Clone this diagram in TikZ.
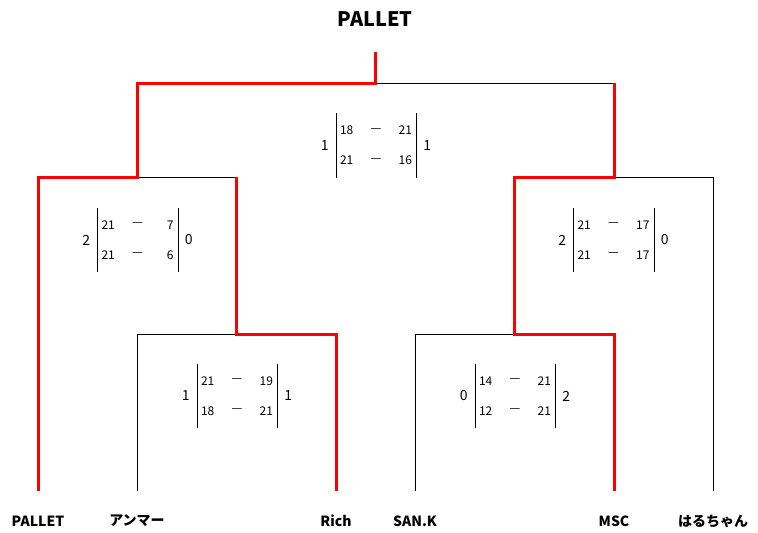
\documentclass[tikz,border=0pt]{standalone}
\usepackage{fontspec}
\setmainfont{Noto Sans CJK JP}
\usetikzlibrary{positioning}
\tikzset{%
  win/.style={draw=red, line width=3pt},% winner's path
  lose/.style={draw=black, line width=1pt},
  player/.style={font=\fontsize{14}{14}\selectfont\bfseries, inner sep=0pt},
  champion/.style={font=\fontsize{20}{20}\selectfont\bfseries, inner sep=0pt},
  %
  gamebox/.style={minimum width=80pt, minimum height=64pt, inner sep=0pt},
  point/.style={font=\fontsize{12}{12}\selectfont, inner sep=0pt},
  dashmark/.style={font=\fontsize{12}{12}\selectfont, inner sep=0pt},
  total/.style={font=\fontsize{14}{14}\selectfont, inner sep=0pt}}
% #1 name, #2 position, #3 left total, #4-#7 points of the two sets, #8 right total
\newcommand{\game}[8]{%
  \node[gamebox] (#1) at (#2) {};
  \draw (#1.north west) -- (#1.south west) (#1.north east) -- (#1.south east);
  \node[total, left=7pt of #1] (#1-l) {#3};
  \node[total, right=7pt of #1] (#1-r) {#8};
  \node[point, anchor=west] (#1-a1) at ([xshift=4pt,yshift=15pt]#1.west) {#4};
  \node[dashmark] (#1-d1) at ([yshift=15pt]#1.center) {—};
  \node[point, anchor=east] (#1-b1) at ([xshift=-4pt,yshift=15pt]#1.east) {#5};
  \node[point, anchor=west] (#1-a2) at ([xshift=4pt,yshift=-15pt]#1.west) {#6};
  \node[dashmark] (#1-d2) at ([yshift=-15pt]#1.center) {—};
  \node[point, anchor=east] (#1-b2) at ([xshift=-4pt,yshift=-15pt]#1.east) {#7};
}
\begin{document}
\begin{tikzpicture}[x=1pt, y=-1pt]
  \useasboundingbox (0,0) rectangle (758,533);

  \node[champion] (title) at (375,19) {PALLET};

  \node[player] (p1) at (38,521) {PALLET};
  \node[player] (p2) at (137,521) {アンマー};
  \node[player] (p3) at (336,521) {Rich};
  \node[player] (p4) at (415,521) {SAN.K};
  \node[player] (p5) at (614,521) {MSC};
  \node[player] (p6) at (713,521) {はるちゃん};

  \coordinate (m1) at (236,334);
  \coordinate (m2) at (514,334);
  \coordinate (s1) at (137,177);
  \coordinate (s2) at (614,177);
  \coordinate (f) at (375,83);
  \coordinate (top) at (375,52);

  % losers
  \draw[lose] (p2) ++(0,-30) |- (m1);
  \draw[lose] (p4) ++(0,-30) |- (m2);
  \draw[lose] (p6) ++(0,-30) |- (s2);
  \draw[lose] (m1 |- s1) -- (s1);
  \draw[lose] (f) -- (s2 |- f);

  % winners
  \draw[win] (p1) ++(0,-30) |- (s1) |- (f) -- (top);
  \draw[win] (p3) ++(0,-30) |- (m1) -- (m1 |- s1);
  \draw[win] (p5) ++(0,-30) |- (m2) -- (m2 |- s2) -- (s2) -- (s2 |- f);

  \game{g1}{237,396}{1}{21}{19}{18}{21}{1}
  \game{g2}{515,396}{0}{14}{21}{12}{21}{2}
  \game{g3}{137.5,240}{2}{21}{7}{21}{6}{0}
  \game{g4}{613.5,240}{2}{21}{17}{21}{17}{0}
  \game{g5}{376,145.5}{1}{18}{21}{21}{16}{1}
\end{tikzpicture}
\end{document}
